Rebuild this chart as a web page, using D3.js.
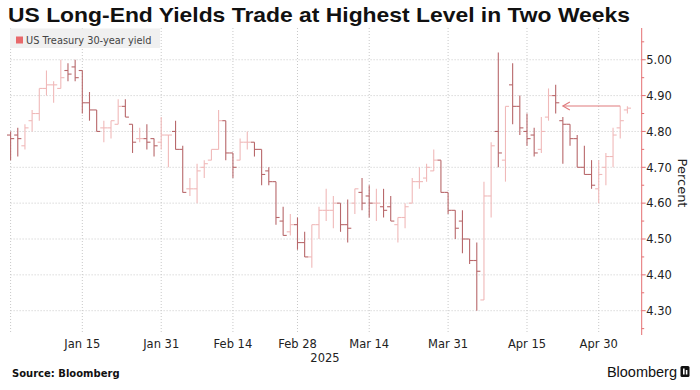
<!DOCTYPE html>
<html><head><meta charset="utf-8">
<script src="https://cdn.jsdelivr.net/npm/d3@7"></script>
<style>body{margin:0;background:#fff} svg{display:block}</style>
</head><body><svg id="c" width="700" height="390"></svg>
<script>
const dates = ["2024-12-31",
"2025-01-02","2025-01-03","2025-01-06","2025-01-07","2025-01-08","2025-01-09","2025-01-10","2025-01-13","2025-01-14","2025-01-15","2025-01-16","2025-01-17","2025-01-21","2025-01-22","2025-01-23","2025-01-24","2025-01-27","2025-01-28","2025-01-29","2025-01-30","2025-01-31",
"2025-02-03","2025-02-04","2025-02-05","2025-02-06","2025-02-07","2025-02-10","2025-02-11","2025-02-12","2025-02-13","2025-02-14","2025-02-18","2025-02-19","2025-02-20","2025-02-21","2025-02-24","2025-02-25","2025-02-26","2025-02-27","2025-02-28",
"2025-03-03","2025-03-04","2025-03-05","2025-03-06","2025-03-07","2025-03-10","2025-03-11","2025-03-12","2025-03-13","2025-03-14","2025-03-17","2025-03-18","2025-03-19","2025-03-20","2025-03-21","2025-03-24","2025-03-25","2025-03-26","2025-03-27","2025-03-28","2025-03-31",
"2025-04-01","2025-04-02","2025-04-03","2025-04-04","2025-04-07","2025-04-08","2025-04-09","2025-04-10","2025-04-11","2025-04-14","2025-04-15","2025-04-16","2025-04-17","2025-04-21","2025-04-22","2025-04-23","2025-04-24","2025-04-25","2025-04-28","2025-04-29","2025-04-30",
"2025-05-01","2025-05-02","2025-05-05","2025-05-06"];

const openVals = [4.79,4.79,4.76,4.83,4.85,4.92,4.93,4.92,4.97,4.98,4.97,4.88,4.86,4.81,4.81,4.82,4.87,4.82,4.78,4.78,4.78,4.77,4.79,4.80,4.75,4.64,4.64,4.70,4.72,4.75,4.83,4.74,4.72,4.77,4.77,4.75,4.69,4.66,4.55,4.52,4.54,4.49,4.45,4.54,4.58,4.58,4.60,4.54,4.60,4.63,4.62,4.60,4.59,4.59,4.54,4.56,4.60,4.66,4.67,4.69,4.72,4.63,4.58,4.55,4.50,4.44,4.33,4.62,4.80,4.72,4.93,4.87,4.80,4.79,4.75,4.84,4.90,4.83,4.82,4.78,4.70,4.68,4.64,4.70,4.73,4.81,4.86];
const highVals = [4.80,4.81,4.82,4.86,4.92,4.97,4.94,5.00,4.99,5.00,4.97,4.91,4.86,4.83,4.83,4.89,4.89,4.82,4.81,4.82,4.78,4.84,4.79,4.83,4.76,4.67,4.71,4.72,4.75,4.86,4.83,4.74,4.78,4.80,4.77,4.75,4.70,4.66,4.59,4.57,4.56,4.52,4.54,4.59,4.64,4.62,4.60,4.61,4.64,4.67,4.65,4.64,4.64,4.62,4.56,4.60,4.67,4.70,4.71,4.75,4.72,4.63,4.58,4.58,4.50,4.49,4.66,4.77,5.02,4.87,4.99,4.90,4.85,4.81,4.84,4.92,4.93,4.84,4.82,4.79,4.76,4.72,4.72,4.74,4.81,4.87,4.87];
const lowVals = [4.72,4.73,4.75,4.80,4.83,4.90,4.88,4.92,4.94,4.94,4.85,4.83,4.80,4.77,4.78,4.82,4.84,4.74,4.77,4.75,4.73,4.75,4.70,4.75,4.63,4.62,4.60,4.67,4.72,4.75,4.72,4.67,4.72,4.75,4.73,4.65,4.65,4.54,4.51,4.51,4.47,4.45,4.42,4.50,4.55,4.53,4.52,4.49,4.57,4.58,4.56,4.55,4.56,4.55,4.49,4.53,4.60,4.64,4.66,4.69,4.63,4.57,4.50,4.46,4.43,4.30,4.33,4.56,4.70,4.66,4.82,4.79,4.76,4.73,4.74,4.83,4.85,4.71,4.76,4.70,4.68,4.64,4.60,4.65,4.70,4.78,4.85];
const closeVals = [4.78,4.78,4.81,4.85,4.92,4.93,4.93,4.95,4.96,4.95,4.88,4.86,4.80,4.81,4.83,4.87,4.84,4.77,4.78,4.77,4.76,4.79,4.79,4.75,4.63,4.64,4.69,4.71,4.75,4.83,4.74,4.70,4.77,4.77,4.75,4.68,4.66,4.56,4.51,4.54,4.49,4.45,4.54,4.58,4.58,4.60,4.54,4.53,4.64,4.60,4.60,4.60,4.58,4.55,4.56,4.59,4.66,4.66,4.70,4.72,4.63,4.58,4.53,4.50,4.44,4.41,4.62,4.76,4.74,4.87,4.87,4.81,4.78,4.74,4.80,4.90,4.88,4.82,4.78,4.70,4.68,4.65,4.68,4.73,4.79,4.83,4.865];

const yTicks = [4.30,4.40,4.50,4.60,4.70,4.80,4.90,5.00];
const yMinorTicks = [4.25,4.35,4.45,4.55,4.65,4.75,4.85,4.95,5.05];
const xTickDates = ["2025-01-15","2025-01-31","2025-02-14","2025-02-28","2025-03-14","2025-03-31","2025-04-15","2025-04-30"];
const xTickLabels = ["Jan 15","Jan 31","Feb 14","Feb 28","Mar 14","Mar 31","Apr 15","Apr 30"];
const yearLabel = "2025";
const seriesName = "US Treasury 30-year yield";
const arrowNote = {fromDate: "2025-05-05", toDate: "2025-04-23", level: 4.871};

(function(){
const bars = dates.map((d,i)=>({d, o:openVals[i], h:highVals[i], l:lowVals[i], c:closeVals[i]}));

const svg = d3.select("#c");
const pLeft = 10.6, pRight = 641.7, pTop = 28, pBottom = 332;
const x = d3.scalePoint().domain(dates).range([10.6, 627.4]);
const y = d3.scaleLinear().domain([4.30, 5.00]).range([310.7, 59.75]);

svg.append("text").attr("x",8).attr("y",22)
  .attr("font-family","Liberation Sans, Arial, sans-serif").attr("font-weight","bold")
  .attr("font-size",20.5).attr("fill","#111")
  .attr("textLength",622).attr("lengthAdjust","spacingAndGlyphs")
  .text("US Long-End Yields Trade at Highest Level in Two Weeks");

const grid = svg.append("g");
grid.selectAll("line.h").data(yTicks).join("line")
  .attr("x1",pLeft).attr("x2",pRight).attr("y1",d=>y(d)).attr("y2",d=>y(d))
  .attr("stroke","#c8c8c8").attr("stroke-width",1).attr("stroke-dasharray","1,2");
grid.selectAll("line.v").data([dates[0]].concat(xTickDates)).join("line")
  .attr("x1",d=>x(d)).attr("x2",d=>x(d)).attr("y1",pTop).attr("y2",pBottom)
  .attr("stroke","#c8c8c8").attr("stroke-width",1).attr("stroke-dasharray","1,2");

svg.append("rect").attr("x",10).attr("y",28.5).attr("width",150).attr("height",19.5).attr("fill","#f0f0f0");
svg.append("rect").attr("x",16).attr("y",36.5).attr("width",7).attr("height",7).attr("fill","#e8696b");
svg.append("text").attr("x",26).attr("y",43.5).attr("font-family","DejaVu Sans, sans-serif")
  .attr("font-size",9.8).attr("fill","#444").text(seriesName);

const tick = 3.6;
const gb = svg.append("g");
const col = b => b.c >= b.o ? "#f0b9b9" : "#b8686b";
gb.selectAll("line.hl").data(bars).join("line")
  .attr("x1",b=>x(b.d)).attr("x2",b=>x(b.d)).attr("y1",b=>y(b.h)).attr("y2",b=>y(b.l))
  .attr("stroke",col).attr("stroke-width",1.1);
gb.selectAll("line.o").data(bars).join("line")
  .attr("x1",b=>x(b.d)-tick).attr("x2",b=>x(b.d)).attr("y1",b=>y(b.o)).attr("y2",b=>y(b.o))
  .attr("stroke",col).attr("stroke-width",1.1);
gb.selectAll("line.c").data(bars).join("line")
  .attr("x1",b=>x(b.d)).attr("x2",b=>x(b.d)+tick).attr("y1",b=>y(b.c)).attr("y2",b=>y(b.c))
  .attr("stroke",col).attr("stroke-width",1.1);

const ay = y(arrowNote.level), ax0 = x(arrowNote.fromDate), ax1 = x(arrowNote.toDate);
svg.append("line").attr("x1",ax0).attr("x2",ax1).attr("y1",ay).attr("y2",ay)
  .attr("stroke","#e07a7c").attr("stroke-width",1.1);
svg.append("path").attr("d",`M${ax1+7},${ay-4}L${ax1},${ay}L${ax1+7},${ay+4}`)
  .attr("fill","none").attr("stroke","#e07a7c").attr("stroke-width",1.1);

const axisCol = "#e46f72";
svg.append("line").attr("x1",pRight).attr("x2",pRight).attr("y1",pTop).attr("y2",pBottom+3)
  .attr("stroke",axisCol).attr("stroke-width",1);
svg.selectAll("line.ymaj").data(yTicks).join("line")
  .attr("x1",pRight).attr("x2",pRight+4).attr("y1",d=>y(d)).attr("y2",d=>y(d))
  .attr("stroke",axisCol);
svg.selectAll("line.ymin").data(yMinorTicks).join("line")
  .attr("x1",pRight).attr("x2",pRight+2.5).attr("y1",d=>y(d)).attr("y2",d=>y(d))
  .attr("stroke",axisCol);
svg.selectAll("text.yl").data(yTicks).join("text")
  .attr("x",pRight+4.5).attr("y",d=>y(d)+4.2)
  .attr("font-family","DejaVu Sans, sans-serif").attr("font-size",11.5).attr("fill","#222")
  .text(d=>d3.format(".2f")(d));
svg.append("text").attr("transform","translate(678,183) rotate(90)")
  .attr("text-anchor","middle").attr("font-family","DejaVu Sans, sans-serif")
  .attr("font-size",13).attr("fill","#222").text("Percent");

svg.selectAll("text.xl").data(xTickDates).join("text")
  .attr("x",d=>x(d)).attr("y",347.5).attr("text-anchor","middle")
  .attr("font-family","DejaVu Sans, sans-serif").attr("font-size",11.5).attr("fill","#222")
  .text((d,i)=>xTickLabels[i]);
svg.append("text").attr("x",325).attr("y",362).attr("text-anchor","middle")
  .attr("font-family","DejaVu Sans, sans-serif").attr("font-size",11.5).attr("fill","#222").text(yearLabel);

svg.append("text").attr("x",12).attr("y",377).attr("font-family","DejaVu Sans, sans-serif")
  .attr("font-weight","bold").attr("font-size",10).attr("fill","#111").text("Source: Bloomberg");
svg.append("text").attr("x",677).attr("y",377).attr("text-anchor","end")
  .attr("font-family","Liberation Sans, Arial, sans-serif").attr("font-size",14.5).attr("fill","#111").text("Bloomberg");
svg.append("rect").attr("x",680.5).attr("y",366).attr("width",9).attr("height",11).attr("rx",1.5).attr("fill","#111");
svg.append("rect").attr("x",683).attr("y",368.5).attr("width",1.6).attr("height",6).attr("fill","#fff");
svg.append("rect").attr("x",685.8).attr("y",370).attr("width",1.6).attr("height",4.5).attr("fill","#fff");
})();
</script></body></html>
